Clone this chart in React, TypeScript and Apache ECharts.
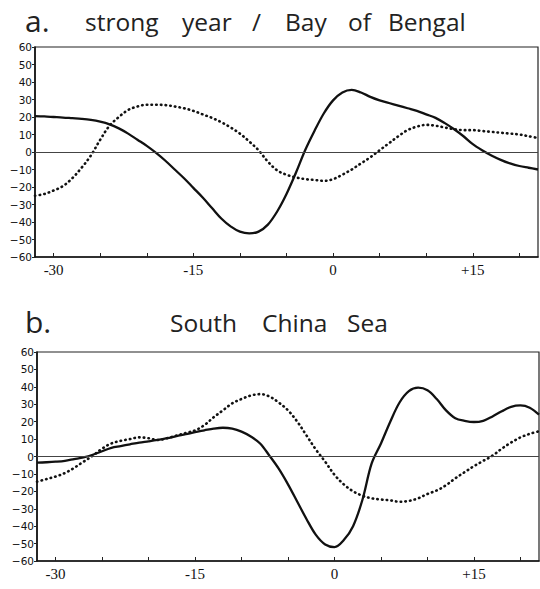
import React, { useEffect, useRef } from "react";
import * as echarts from "echarts";

// Day axis (days relative to onset)
const days = [
  -32, -31, -30, -29, -28, -27, -26, -25, -24, -23, -22, -21, -20, -19, -18, -17, -16, -15, -14, -13,
  -12, -11, -10, -9, -8, -7, -6, -5, -4, -3, -2, -1, 0, 1, 2, 3, 4, 5, 6, 7, 8, 9, 10, 11, 12, 13, 14,
  15, 16, 17, 18, 19, 20, 21, 22,
];

// Panel a: strong year / Bay of Bengal
const aSolid = [
  20.5, 20.3, 20, 19.7, 19.3, 18.9, 18.3, 17.3, 15.8, 13.5, 10.5, 7, 3.5, -0.5, -5, -10, -15, -20.5, -26, -32,
  -38, -42.5, -45.5, -46.5, -45.5, -41.5, -34, -24, -12, 1, 12, 22, 29.5, 34, 35.5, 34, 31.5, 29.5, 28, 26.5,
  25, 23.5, 21.5, 19.5, 16.5, 13, 9, 4.5, 1, -2, -4.5, -6.5, -8, -9, -10,
];
const aDotted = [
  -25, -24, -22, -19.5, -15, -9, -2, 7, 15, 20, 24, 26, 27, 27, 26.8, 26, 25, 23.5, 21.5, 19.5,
  17, 14, 10.5, 6, 1, -5.5, -10.5, -13, -14.5, -15.5, -16, -16.5, -15.5, -13, -10, -6.5, -3, 1, 5, 9,
  12.5, 14.5, 15.5, 15, 14, 13, 12.5, 12.5, 12, 11.5, 11, 10.5, 10, 9, 8,
];

// Panel b: South China Sea
const bSolid = [
  -3.5, -3.3, -3, -2.5, -1.5, -0.5, 1, 3, 5, 6, 7, 8, 8.7, 9.5, 10.5, 11.7, 12.8, 14, 15, 16,
  16.5, 16, 14.3, 11.5, 7.5, 0.5, -7, -16, -26, -36, -45, -50.5, -52, -48, -40, -25, -4, 7.5, 20, 31,
  37.5, 39.5, 38, 33, 26.5, 22, 20.5, 19.8, 20.5, 23, 26, 28.5, 29.3, 28, 24,
];
const bDotted = [
  -14.5, -13, -11.5, -9.5, -6.5, -3, 0.5, 4.5, 7.5, 9, 10, 11, 10.5, 9.5, 10.5, 12, 13.5, 15, 18, 22.5,
  26.5, 30.5, 33, 35, 35.8, 34.5, 31, 26.5, 20, 12, 4, -3, -10.5, -16, -20, -22.5, -24, -24.7, -25.2, -26,
  -25.5, -24, -21.5, -19.5, -16.5, -12.5, -9, -5.5, -2.5, 0.5, 4.5, 8, 11, 13, 14.5,
];

const xLabelValues = [-30, -15, 0, 15];
const xTickValues = [-30, -25, -20, -15, -10, -5, 0, 5, 10, 15, 20];

const titleA = [
  { t: "a.", x: 25, big: true },
  { t: "strong", x: 85 },
  { t: "year", x: 182 },
  { t: "/", x: 252 },
  { t: "Bay", x: 285 },
  { t: "of", x: 348 },
  { t: "Bengal", x: 388 },
];
const titleB = [
  { t: "b.", x: 25, big: true },
  { t: "South", x: 170 },
  { t: "China", x: 262 },
  { t: "Sea", x: 347 },
];

const pair = (ys: number[]) => days.map((d, i) => [d, ys[i]]);

export default function App() {
  const ref = useRef<HTMLDivElement>(null);
  useEffect(() => {
    document.body.style.margin = "0";
    const chart = echarts.init(ref.current!, undefined, { renderer: "svg" });
    const grids = [
      { left: 35, top: 47, width: 503, height: 210 },
      { left: 37, top: 352, width: 502, height: 209 },
    ];
    const titleEls = (arr: any[], baseline: number) =>
      arr.map((w) => ({
        type: "text",
        x: w.x,
        y: w.big ? baseline + 3 : baseline + 2,
        style: {
          text: w.t,
          font: `${w.big ? 30 : 24.5}px "Open Sans", "DejaVu Sans", sans-serif`,
          lineHeight: w.big ? 30 : 25,
          fill: "#222",
          textAlign: "left",
          textVerticalAlign: "bottom",
        },
      }));
    const lineSeries = (gi: number, ys: number[], dotted: boolean, zero: boolean) => ({
      type: "line",
      xAxisIndex: gi,
      yAxisIndex: gi,
      data: pair(ys),
      smooth: 0.35,
      showSymbol: false,
      symbol: "none",
      lineStyle: dotted
        ? { color: "#111", width: 2.6, type: [0.5, 4.2], cap: "round" }
        : { color: "#111", width: 2.3 },
      z: dotted ? 3 : 4,
      markLine: zero
        ? {
            silent: true,
            symbol: ["none", "none"],
            label: { show: false },
            lineStyle: { color: "#444", width: 1, type: "solid" },
            data: [{ yAxis: 0 }],
          }
        : undefined,
    });
    chart.setOption({
      animation: false,
      backgroundColor: "#fff",
      grid: grids.map((g) => ({
        ...g,
        show: true,
        borderColor: "#222",
        borderWidth: 1.2,
        backgroundColor: "transparent",
      })),
      xAxis: [0, 1].map((i) => ({
        type: "value",
        gridIndex: i,
        min: -32,
        max: 22,
        axisLine: { show: true, onZero: false, lineStyle: { color: "#111", width: 1.6 } },
        axisTick: {
          show: true,
          inside: true,
          length: 4,
          customValues: xTickValues,
          lineStyle: { color: "#222", width: 1 },
        },
        axisLabel: {
          customValues: xLabelValues,
          formatter: (v: number) => (v > 0 ? "+" + v : String(v)),
          fontFamily: "Liberation Serif",
          fontSize: 15,
          color: "#111",
          margin: 5,
        },
        splitLine: { show: false },
      })),
      yAxis: [0, 1].map((i) => ({
        type: "value",
        gridIndex: i,
        min: -60,
        max: 60,
        interval: 10,
        axisLine: { show: true, onZero: false, lineStyle: { color: "#111", width: 1.6 } },
        axisTick: { show: true, inside: false, length: 3, lineStyle: { color: "#222" } },
        axisLabel: {
          formatter: (v: number) => (v < 0 ? "\u2212" + -v : String(v)),
          fontFamily: "DejaVu Sans",
          fontSize: 10.5,
          color: "#111",
          margin: 3,
        },
        splitLine: { show: false },
      })),
      series: [
        lineSeries(0, aSolid, false, true),
        lineSeries(0, aDotted, true, false),
        lineSeries(1, bSolid, false, true),
        lineSeries(1, bDotted, true, false),
      ],
      graphic: [...titleEls(titleA, 32), ...titleEls(titleB, 333)],
    });
    return () => chart.dispose();
  }, []);
  return (
    <div
      ref={ref}
      style={{ position: "absolute", left: 0, top: 0, width: 540, height: 589, background: "#fff" }}
    />
  );
}
